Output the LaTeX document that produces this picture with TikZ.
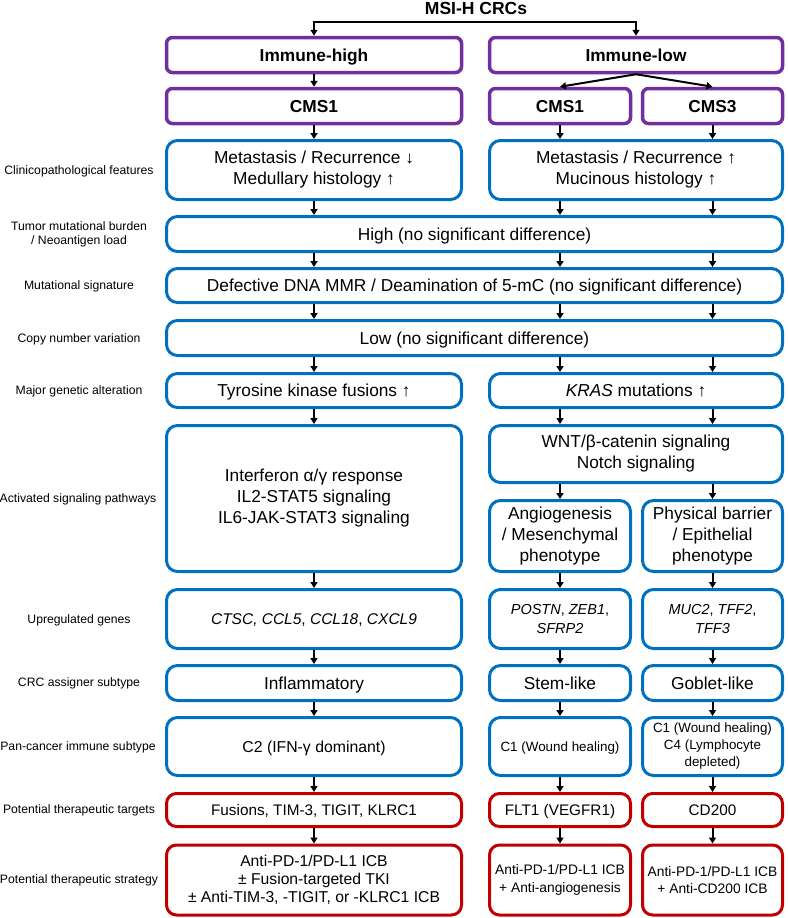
\documentclass[tikz,border=0pt]{standalone}
\usepackage{fontspec}
\setmainfont{Liberation Sans}
\usetikzlibrary{arrows.meta}
\definecolor{bxblue}{HTML}{0070C0}
\definecolor{bxpurple}{HTML}{7030A0}
\definecolor{bxred}{HTML}{C00000}
\newcommand{\fsz}[2]{\fontsize{#1}{#2}\selectfont}
\begin{document}
\begin{tikzpicture}[x=1pt,y=-1pt,
 bbox/.style={draw=bxblue, line width=3pt, rounded corners=11pt, align=center, inner sep=0pt, font=\fsz{17.3}{21}},
 pbox/.style={draw=bxpurple, line width=3.5pt, rounded corners=6pt, align=center, inner sep=0pt, font=\fsz{17.3}{21}\bfseries, minimum height=35pt, text depth=0pt},
 rbox/.style={draw=bxred, line width=3pt, rounded corners=10pt, align=center, inner sep=0pt},
 oneline/.style={text depth=0pt},
 lab/.style={align=center, font=\fsz{12.2}{14.3}},
 arr/.style={line width=2pt, -{Triangle[length=6pt,width=7pt]}},
]
\useasboundingbox (0,0) rectangle (787,918);
\coordinate (cL) at (314,0);
\coordinate (cA) at (560,0);
\coordinate (cB) at (712.5,0);

% title
\node[font=\fsz{17.5}{21}\bfseries] (title) at (476,8) {MSI-H CRCs};
\coordinate (br) at (476,22);

% purple rows
\node[pbox, minimum width=295pt] (imh) at (314,55) {Immune-high};
\node[pbox, minimum width=293pt] (iml) at (636,55) {Immune-low};
\node[pbox, minimum width=295pt] (cmsL) at (314,106) {CMS1};
\node[pbox, minimum width=141pt] (cmsA) at (560,106) {CMS1};
\node[pbox, minimum width=140pt] (cmsB) at (712.5,106) {CMS3};

% blue rows
\node[bbox, minimum width=295pt, minimum height=59pt] (clinL) at (314,170) {Metastasis / Recurrence ↓\\Medullary histology ↑};
\node[bbox, minimum width=293pt, minimum height=59pt] (clinR) at (636,170) {Metastasis / Recurrence ↑\\Mucinous histology ↑};
\node[bbox, oneline, minimum width=616pt, minimum height=35pt] (tmb) at (474.5,234) {High (no significant difference)};
\node[bbox, oneline, minimum width=616pt, minimum height=34pt] (mut) at (474.5,285.5) {Defective DNA MMR / Deamination of 5-mC (no significant difference)};
\node[bbox, oneline, minimum width=616pt, minimum height=35pt] (cnv) at (474.5,338) {Low (no significant difference)};
\node[bbox, oneline, minimum width=295pt, minimum height=34pt] (genL) at (314,390.5) {Tyrosine kinase fusions ↑};
\node[bbox, oneline, minimum width=293pt, minimum height=34pt] (genR) at (636,390.5) {\textit{KRAS} mutations ↑};
\node[bbox, minimum width=295pt, minimum height=146pt] (pathL) at (314,498.5) {Interferon α/γ response\\IL2-STAT5 signaling\\IL6-JAK-STAT3 signaling};
\node[bbox, minimum width=293pt, minimum height=57pt] (wnt) at (636,454) {WNT/β-catenin signaling\\Notch signaling};
\node[bbox, minimum width=141pt, minimum height=71pt] (angA) at (560,536) {Angiogenesis\\/ Mesenchymal\\phenotype};
\node[bbox, minimum width=140pt, minimum height=71pt] (angB) at (712.5,536) {Physical barrier\\/ Epithelial\\phenotype};
\node[bbox, oneline, minimum width=295pt, minimum height=59pt, font=\fsz{15.5}{19}] (geneL) at (314,619) {\textit{CTSC, CCL5}, \textit{CCL18}, \textit{CXCL9}};
\node[bbox, minimum width=141pt, minimum height=59pt, font=\fsz{14.5}{18.7}] (geneA) at (560,619) {\textit{POSTN}, \textit{ZEB1},\\\textit{SFRP2}};
\node[bbox, minimum width=140pt, minimum height=59pt, font=\fsz{14.5}{18.7}] (geneB) at (712.5,619) {\textit{MUC2}, \textit{TFF2},\\\textit{TFF3}};
\node[bbox, oneline, minimum width=295pt, minimum height=35pt] (crcL) at (314,683) {Inflammatory};
\node[bbox, oneline, minimum width=141pt, minimum height=35pt] (crcA) at (560,683) {Stem-like};
\node[bbox, oneline, minimum width=140pt, minimum height=35pt] (crcB) at (712.5,683) {Goblet-like};
\node[bbox, oneline, minimum width=295pt, minimum height=58pt, font=\fsz{15.8}{19}] (immL) at (314,746.5) {C2 (IFN-γ dominant)};
\node[bbox, oneline, minimum width=141pt, minimum height=58pt, font=\fsz{13.4}{17}] (immA) at (560,746.5) {C1 (Wound healing)};
\node[bbox, minimum width=140pt, minimum height=58pt, font=\fsz{13.4}{17}] (immB) at (712.5,746.5) {C1 (Wound healing)\\C4 (Lymphocyte\\depleted)};

% red rows
\node[rbox, oneline, minimum width=295pt, minimum height=33pt, font=\fsz{15.3}{18}] (tgtL) at (314,810) {Fusions, TIM-3, TIGIT, KLRC1};
\node[rbox, oneline, minimum width=141pt, minimum height=33pt, font=\fsz{15.3}{18}] (tgtA) at (560,810) {FLT1 (VEGFR1)};
\node[rbox, oneline, minimum width=140pt, minimum height=33pt, font=\fsz{15.3}{18}] (tgtB) at (712.5,810) {CD200};
\node[rbox, minimum width=295pt, minimum height=70pt, font=\fsz{15.7}{18.3}] (strL) at (314,880) {Anti-PD-1/PD-L1 ICB\\± Fusion-targeted TKI\\± Anti-TIM-3, -TIGIT, or -KLRC1 ICB};
\node[rbox, minimum width=141pt, minimum height=70pt, font=\fsz{13.8}{17.7}] (strA) at (560,880) {Anti-PD-1/PD-L1 ICB\\+ Anti-angiogenesis};
\node[rbox, minimum width=140pt, minimum height=70pt, font=\fsz{13.8}{17.7}] (strB) at (712.5,880) {Anti-PD-1/PD-L1 ICB\\+ Anti-CD200 ICB};

% row labels
\node[lab] (l1) at (79,171) {Clinicopathological features};
\node[lab] (l2) at (79,234) {Tumor mutational burden\\/ Neoantigen load};
\node[lab] (l3) at (79,286) {Mutational signature};
\node[lab] (l4) at (79,339) {Copy number variation};
\node[lab] (l5) at (79,391) {Major genetic alteration};
\node[lab] (l6) at (78,499) {Activated signaling pathways};
\node[lab] (l7) at (79,620) {Upregulated genes};
\node[lab] (l8) at (79,683) {CRC assigner subtype};
\node[lab] (l9) at (78,747) {Pan-cancer immune subtype};
\node[lab] (l10) at (79,810) {Potential therapeutic targets};
\node[lab] (l11) at (79,880) {Potential therapeutic strategy};

% connectors
\draw[arr] (br) -| (imh.north);
\draw[arr] (br) -| (iml.north);
\draw[arr] (imh.south) -- (cmsL.north);
\draw[arr] (iml.south) -- (cmsA.north);
\draw[arr] (iml.south) -- (cmsB.north);

\draw[arr] (cmsL.south) -- (clinL.north);
\draw[arr] (cmsA.south) -- (clinR.north -| cA);
\draw[arr] (cmsB.south) -- (clinR.north -| cB);

\draw[arr] (clinL.south) -- (tmb.north -| cL);
\draw[arr] (clinR.south -| cA) -- (tmb.north -| cA);
\draw[arr] (clinR.south -| cB) -- (tmb.north -| cB);

\foreach \c in {cL,cA,cB}{
  \draw[arr] (tmb.south -| \c) -- (mut.north -| \c);
  \draw[arr] (mut.south -| \c) -- (cnv.north -| \c);
}
\draw[arr] (cnv.south -| cL) -- (genL.north);
\draw[arr] (cnv.south -| cA) -- (genR.north -| cA);
\draw[arr] (cnv.south -| cB) -- (genR.north -| cB);

\draw[arr] (genL.south) -- (pathL.north);
\draw[arr] (genR.south -| cA) -- (wnt.north -| cA);
\draw[arr] (genR.south -| cB) -- (wnt.north -| cB);
\draw[arr] (wnt.south -| cA) -- (angA.north);
\draw[arr] (wnt.south -| cB) -- (angB.north);

\draw[arr] (pathL.south) -- (geneL.north);
\draw[arr] (angA.south) -- (geneA.north);
\draw[arr] (angB.south) -- (geneB.north);

\draw[arr] (geneL.south) -- (crcL.north);
\draw[arr] (geneA.south) -- (crcA.north);
\draw[arr] (geneB.south) -- (crcB.north);

\draw[arr] (crcL.south) -- (immL.north);
\draw[arr] (crcA.south) -- (immA.north);
\draw[arr] (crcB.south) -- (immB.north);

\draw[arr] (immL.south) -- (tgtL.north);
\draw[arr] (immA.south) -- (tgtA.north);
\draw[arr] (immB.south) -- (tgtB.north);

\draw[arr] (tgtL.south) -- (strL.north);
\draw[arr] (tgtA.south) -- (strA.north);
\draw[arr] (tgtB.south) -- (strB.north);
\end{tikzpicture}
\end{document}
